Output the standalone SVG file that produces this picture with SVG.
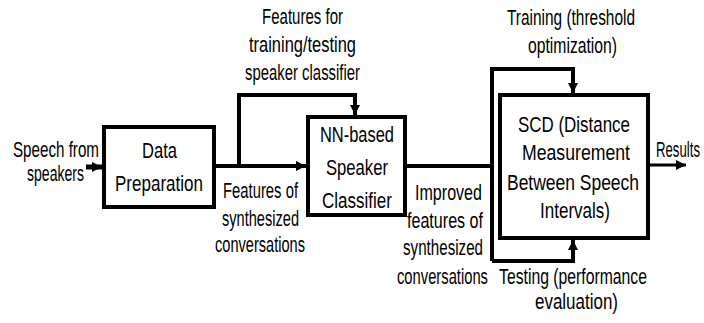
<svg xmlns="http://www.w3.org/2000/svg" width="704" height="323" viewBox="0 0 704 323">
<style>
text{font-family:"Liberation Sans",Arial,sans-serif;font-size:22px;fill:#000;}
.box{fill:#fff;stroke:#000;stroke-width:4;}
.ln{fill:none;stroke:#000;stroke-width:4;}
</style>
<defs>
<marker id="ah" markerUnits="userSpaceOnUse" markerWidth="12" markerHeight="12" refX="10" refY="6" orient="auto">
<path d="M0,1 L10,6 L0,11 Z" fill="#000"/>
</marker>
</defs>
<rect width="704" height="323" fill="#fff"/>
<g id="connectors">
<path class="ln" style="stroke-width:5" d="M86,167 H102" marker-end="url(#ah)"/>
<path class="ln" d="M214,166 H306" marker-end="url(#ah)"/>
<path class="ln" d="M239,166 V95 H355 V115" marker-end="url(#ah)"/>
<path class="ln" d="M405,166 H492"/>
<path class="ln" d="M492,261 V69 H573 V93" marker-end="url(#ah)"/>
<path class="ln" d="M492,261 H573 V240" marker-end="url(#ah)"/>
<path class="ln" style="stroke-width:3" d="M648,165 H686" marker-end="url(#ah)"/>
</g>
<g id="labels">
<text x="13" y="157" textLength="86" lengthAdjust="spacingAndGlyphs">Speech from</text>
<text x="27" y="181" textLength="57" lengthAdjust="spacingAndGlyphs">speakers</text>
<text x="262" y="24" textLength="81" lengthAdjust="spacingAndGlyphs">Features for</text>
<text x="249" y="52" textLength="107" lengthAdjust="spacingAndGlyphs">training/testing</text>
<text x="245" y="80" textLength="115" lengthAdjust="spacingAndGlyphs">speaker classifier</text>
<text x="223" y="198" textLength="75" lengthAdjust="spacingAndGlyphs">Features of</text>
<text x="222" y="226" textLength="77" lengthAdjust="spacingAndGlyphs">synthesized</text>
<text x="215" y="252" textLength="90" lengthAdjust="spacingAndGlyphs">conversations</text>
<text x="415" y="200" textLength="67" lengthAdjust="spacingAndGlyphs">Improved</text>
<text x="407" y="228" textLength="76" lengthAdjust="spacingAndGlyphs">features of</text>
<text x="403" y="255" textLength="80" lengthAdjust="spacingAndGlyphs">synthesized</text>
<text x="397" y="284" textLength="91" lengthAdjust="spacingAndGlyphs">conversations</text>
<text x="507" y="25" textLength="128" lengthAdjust="spacingAndGlyphs">Training (threshold</text>
<text x="528" y="53" textLength="89" lengthAdjust="spacingAndGlyphs">optimization)</text>
<text x="499" y="284" textLength="148" lengthAdjust="spacingAndGlyphs">Testing (performance</text>
<text x="535" y="309" textLength="83" lengthAdjust="spacingAndGlyphs">evaluation)</text>
<text x="656" y="157" textLength="44" lengthAdjust="spacingAndGlyphs">Results</text>
</g>
<g id="data-prep">
<rect class="box" x="104" y="127" width="110" height="80"/>
<text x="142" y="158" textLength="35" lengthAdjust="spacingAndGlyphs">Data</text>
<text x="115" y="191" textLength="88" lengthAdjust="spacingAndGlyphs">Preparation</text>
</g>
<g id="nn-classifier">
<rect class="box" x="308" y="117" width="97" height="98"/>
<text x="320" y="142" textLength="74" lengthAdjust="spacingAndGlyphs">NN-based</text>
<text x="326" y="175" textLength="62" lengthAdjust="spacingAndGlyphs">Speaker</text>
<text x="322" y="208" textLength="70" lengthAdjust="spacingAndGlyphs">Classifier</text>
</g>
<g id="scd">
<rect class="box" x="500" y="95" width="148" height="143"/>
<text x="518" y="132" textLength="112" lengthAdjust="spacingAndGlyphs">SCD (Distance</text>
<text x="522" y="160" textLength="108" lengthAdjust="spacingAndGlyphs">Measurement</text>
<text x="507" y="190" textLength="132" lengthAdjust="spacingAndGlyphs">Between Speech</text>
<text x="540" y="218" textLength="70" lengthAdjust="spacingAndGlyphs">Intervals)</text>
</g>
</svg>
